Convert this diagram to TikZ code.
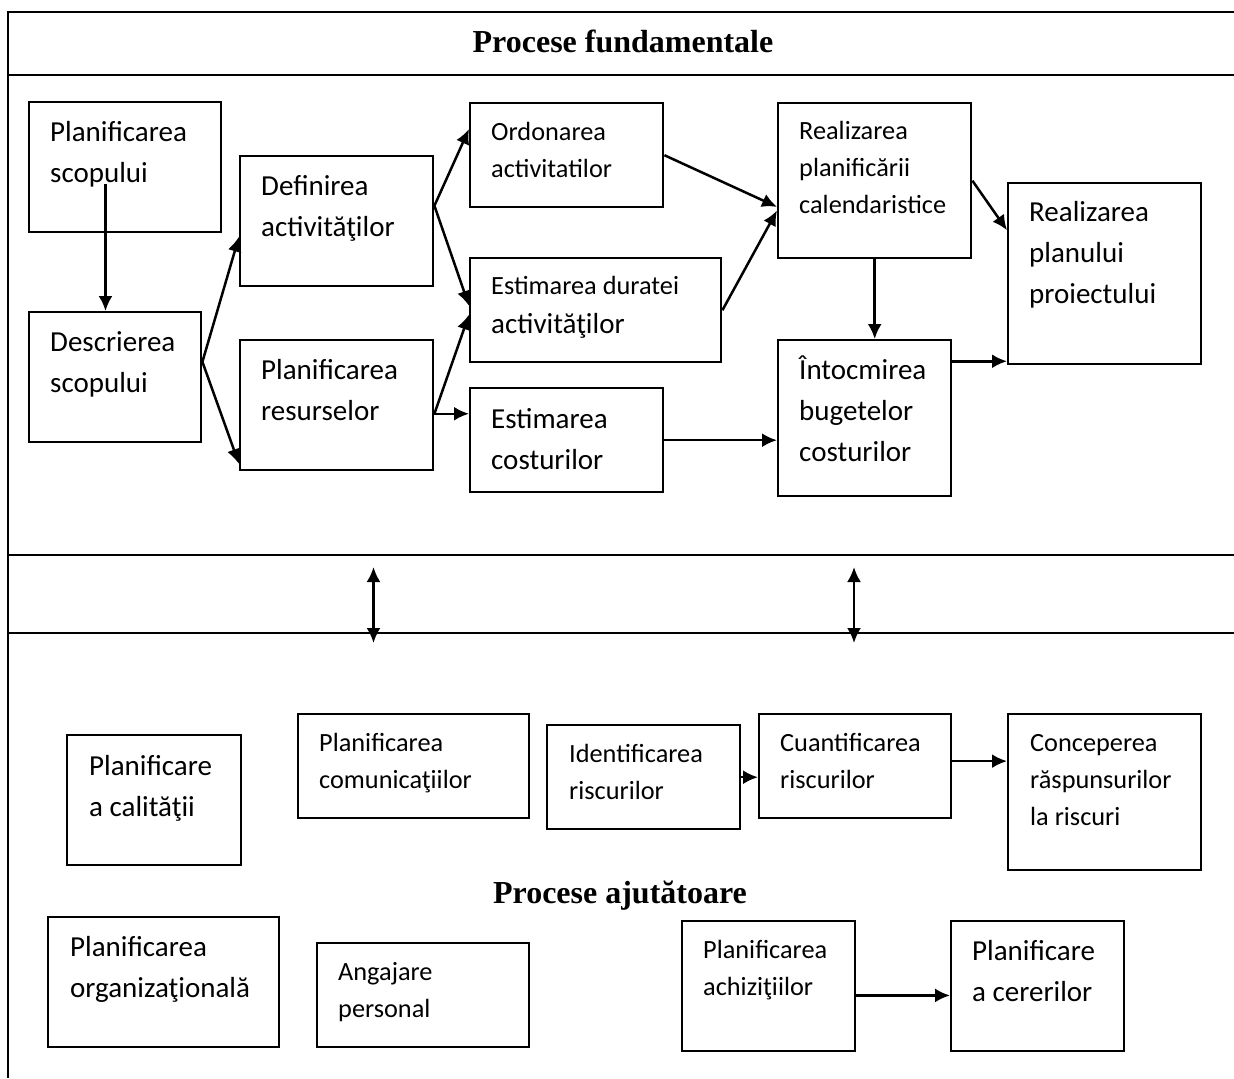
\documentclass[tikz,border=0pt]{standalone}
\usepackage{fontspec}
\setmainfont{Carlito}
\newfontfamily\titlefont{Liberation Serif}
\usetikzlibrary{arrows.meta}

\newdimen\pxu \pxu=0.5pt
% box of width #1, height #2, text inset #3, first baseline #4 (all in px)
\newcommand\boxtext[5]{\parbox[c][#2\pxu][t]{#1\pxu}{\vspace*{\dimexpr#4\pxu-\ht\strutbox\relax}\leftskip=#3\pxu\relax\strut#5}}
\newcommand\bigfont{\fontsize{14.5}{20.5}\selectfont}

\tikzset{
  proc/.style={draw, line width=1.2pt, inner sep=0pt, anchor=north west},
  bigtxt/.style={font=\bigfont},
  smalltxt/.style={font=\fontsize{13.15}{18.5}\selectfont},
  arr/.style={-{Latex[length=7.5pt,width=7pt]}, line width=1.25pt},
  dblarr/.style={{Latex[length=7.5pt,width=7pt]}-{Latex[length=7.5pt,width=7pt]}, line width=1.25pt},
  sepline/.style={line width=1.2pt},
  heading/.style={font=\titlefont\bfseries\fontsize{16}{19}\selectfont, anchor=base}
}

\begin{document}
\begin{tikzpicture}[x=0.5pt,y=-0.5pt]
\useasboundingbox (0,0) rectangle (1234,1078);

% frame
\draw[sepline] (1234,12) -- (8,12) -- (8,1078);
\draw[sepline] (8,75) -- (1234,75);
\draw[sepline] (8,555) -- (1234,555);
\draw[sepline] (8,633) -- (1234,633);

\node[heading] (tfund) at (623,52) {Procese fundamentale};
\node[heading] (tajut) at (620,903) {Procese ajutătoare};

% fundamental processes
\node[proc, bigtxt] (ps) at (28,101) {\boxtext{192}{130}{21}{39}{Planificarea\\scopului}};
\node[proc, bigtxt] (ds) at (28,311) {\boxtext{172}{130}{21}{39}{Descrierea\\scopului}};
\node[proc, bigtxt] (df) at (239,155) {\boxtext{193}{130}{21}{39}{Definirea\\activităţilor}};
\node[proc, bigtxt] (pr) at (239,339) {\boxtext{193}{130}{21}{39}{Planificarea\\resurselor}};
\node[proc, smalltxt] (od) at (469,102) {\boxtext{193}{104}{21}{37}{Ordonarea\\activitatilor}};
\node[proc, smalltxt] (ed) at (469,257) {\boxtext{251}{104}{21}{36}{Estimarea duratei\\[2\pxu]{\bigfont activităţilor}}};
\node[proc, bigtxt] (ec) at (469,387) {\boxtext{193}{104}{21}{40}{Estimarea\\costurilor}};
\node[proc, smalltxt] (rp) at (777,102) {\boxtext{193}{155}{21}{36}{Realizarea\\planificării\\calendaristice}};
\node[proc, bigtxt] (ib) at (777,339) {\boxtext{173}{156}{21}{39}{Întocmirea\\bugetelor\\costurilor}};
\node[proc, bigtxt] (rpl) at (1007,182) {\boxtext{193}{181}{21}{38}{Realizarea\\planului\\proiectului}};

\coordinate (pstail) at (105.5,184);
\draw[arr] (pstail) -- (pstail |- ds.north);
\draw[arr] (ds.10) -- (df.189);
\draw[arr] (ds.10) -- (pr.211);
\draw[arr] (df.9) -- (od.165);
\draw[arr] (df.9) -- (ed.178);
\draw[arr] (pr.-5) -- (ed.182);
\draw[arr] (pr.-5) -- (pr.-5 -| ec.west);
\draw[arr] (od.east) -- (rp.195);
\draw[arr] (ed.east) -- (rp.197);
\draw[arr] (rp.east) -- (rpl.156);
\draw[arr] (rp.south) -- (rp.south |- ib.north);
\draw[arr] (ec.east) -- (ec.east -| ib.west);
\draw[arr] (ib.33) -- (ib.33 -| rpl.west);

% links between the two groups
\coordinate (lk1a) at (373.5,567);
\coordinate (lk1b) at (373.5,643);
\coordinate (lk2a) at (854,567);
\coordinate (lk2b) at (854,643);
\draw[dblarr] (lk1a) -- (lk1b);
\draw[dblarr] (lk2a) -- (lk2b);

% supporting processes
\node[proc, bigtxt] (pq) at (66,734) {\boxtext{174}{130}{22}{40}{Planificare\\a calităţii}};
\node[proc, smalltxt] (pcom) at (297,713) {\boxtext{231}{104}{21}{37}{Planificarea\\comunicaţiilor}};
\node[proc, smalltxt] (idr) at (546,724) {\boxtext{193}{104}{22}{37}{Identificarea\\riscurilor}};
\node[proc, smalltxt] (cur) at (758,713) {\boxtext{192}{104}{21}{37}{Cuantificarea\\riscurilor}};
\node[proc, smalltxt] (cpr) at (1007,713) {\boxtext{193}{156}{22}{37}{Conceperea\\răspunsurilor\\la riscuri}};
\node[proc, bigtxt] (porg) at (47,916) {\boxtext{231}{130}{22}{39}{Planificarea\\organizaţională}};
\node[proc, smalltxt] (ang) at (316,942) {\boxtext{212}{104}{21}{37}{Angajare\\personal}};
\node[proc, smalltxt] (pach) at (681,920) {\boxtext{173}{130}{21}{37}{Planificarea\\achiziţiilor}};
\node[proc, bigtxt] (pcer) at (950,920) {\boxtext{173}{130}{21}{39}{Planificare\\a cererilor}};

\draw[arr] (idr.east) -- (idr.east -| cur.west);
\draw[arr] (cur.3) -- (cur.3 -| cpr.west);
\draw[arr] (pach.-6) -- (pach.-6 -| pcer.west);
\end{tikzpicture}
\end{document}
